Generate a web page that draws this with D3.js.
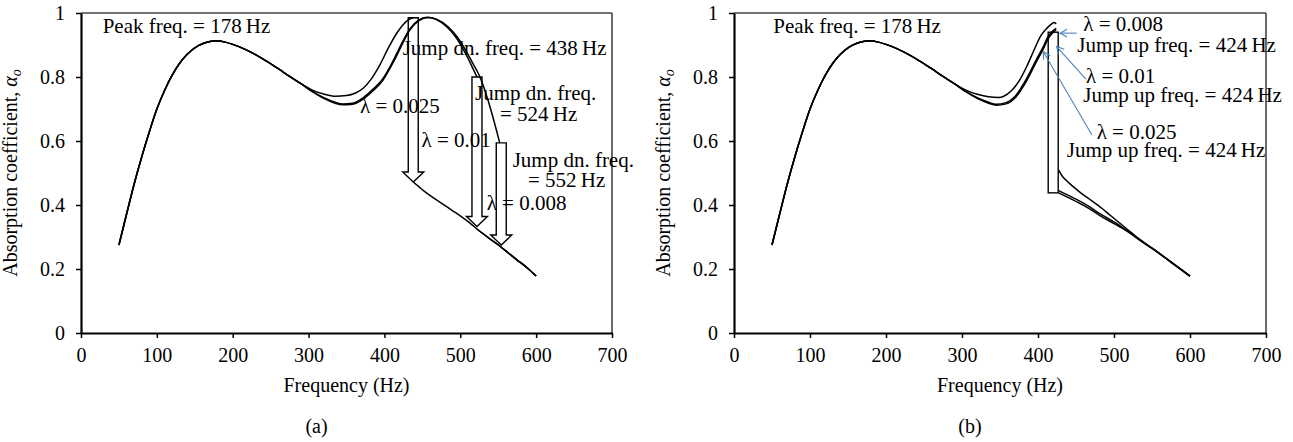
<!DOCTYPE html>
<html><head><meta charset="utf-8">
<script src="https://cdn.jsdelivr.net/npm/d3@7"></script>
<style>
body{margin:0;background:#fff;}
svg{display:block;font-family:"Liberation Serif","Times New Roman",serif;}
</style></head><body>
<svg id="chart" width="1293" height="442"></svg>
<script>
// ---------------- data ----------------
const xTicks = [0, 100, 200, 300, 400, 500, 600, 700];
const yTicks = [0, 0.2, 0.4, 0.6, 0.8, 1];
const yTickLabels = ["0", "0.2", "0.4", "0.6", "0.8", "1"];
const lambdas = ["0.008", "0.01", "0.025"];

// shared part of all curves (both panels)
const commonFreq  = [50, 60, 70, 80, 90, 100, 110, 120, 130, 140, 150, 160, 170, 178, 190, 200, 215, 230, 245, 260, 275, 290];
const commonAlpha = [0.275, 0.371, 0.465, 0.55, 0.628, 0.70, 0.757, 0.805, 0.843, 0.871, 0.891, 0.904, 0.911, 0.913, 0.909, 0.902, 0.888, 0.87, 0.849, 0.826, 0.802, 0.779];

// panel (a): upper branches (increasing frequency sweep)
const aUpFreq008  = [305, 320, 335, 345, 358, 372, 385, 398, 408, 416, 425, 434, 445, 458, 470, 484, 496, 506, 516, 524, 530, 540, 552];
const aUpAlpha008 = [0.754, 0.733, 0.718, 0.713, 0.715, 0.731, 0.757, 0.79, 0.83, 0.866, 0.91, 0.948, 0.975, 0.986, 0.979, 0.957, 0.925, 0.888, 0.845, 0.81, 0.775, 0.70, 0.594];
const aUpFreq01   = [305, 320, 335, 345, 358, 372, 385, 398, 408, 416, 425, 434, 445, 456, 468, 482, 494, 504, 515, 522];
const aUpAlpha01  = [0.755, 0.735, 0.721, 0.716, 0.718, 0.735, 0.762, 0.795, 0.835, 0.872, 0.915, 0.952, 0.978, 0.987, 0.98, 0.957, 0.925, 0.886, 0.835, 0.80];
const aUpFreq025  = [305, 320, 335, 350, 362, 372, 383, 394, 405, 416, 424, 431, 438];
const aUpAlpha025 = [0.759, 0.747, 0.74, 0.742, 0.75, 0.765, 0.795, 0.838, 0.89, 0.936, 0.962, 0.978, 0.985];
// panel (a): lower branch after the jump down
const aLowFreq  = [438, 445, 452, 460, 470, 480, 490, 500, 512, 522, 538, 554, 565, 575, 588, 600];
const aLowAlpha = [0.472, 0.458, 0.444, 0.43, 0.414, 0.398, 0.382, 0.366, 0.345, 0.325, 0.296, 0.268, 0.247, 0.228, 0.204, 0.178];
// panel (a): jump-down arrows (lambda 0.025, 0.01, 0.008)
const aJumpFreq   = [438, 522, 554];
const aJumpTop    = [0.985, 0.80, 0.594];
const aJumpBottom = [0.472, 0.333, 0.275];

// panel (b): upper branches (decreasing frequency sweep)
const bUpFreq008  = [305, 320, 335, 345, 358, 370, 385, 398, 407, 413, 420, 424];
const bUpAlpha008 = [0.754, 0.733, 0.718, 0.712, 0.716, 0.735, 0.788, 0.848, 0.888, 0.918, 0.94, 0.948];
const bUpFreq01   = [305, 320, 335, 345, 358, 370, 385, 398, 407, 413, 420, 424];
const bUpAlpha01  = [0.755, 0.735, 0.721, 0.715, 0.72, 0.74, 0.795, 0.855, 0.895, 0.925, 0.945, 0.952];
const bUpFreq025  = [305, 320, 335, 348, 355, 365, 375, 385, 395, 403, 410, 416, 421, 424];
const bUpAlpha025 = [0.759, 0.746, 0.738, 0.736, 0.74, 0.757, 0.787, 0.832, 0.885, 0.926, 0.948, 0.962, 0.97, 0.966];
// panel (b): lower branches
const bLowFreq008  = [427, 432, 438, 446, 455, 468, 480, 495, 517, 535, 552, 575, 600];
const bLowAlpha008 = [0.51, 0.49, 0.475, 0.458, 0.44, 0.418, 0.397, 0.368, 0.325, 0.29, 0.262, 0.222, 0.178];
const bLowFreq01   = [427, 440, 455, 468, 482, 500, 517, 535, 552, 575, 600];
const bLowAlpha01  = [0.445, 0.43, 0.412, 0.394, 0.372, 0.347, 0.32, 0.29, 0.262, 0.222, 0.178];
const bLowFreq025  = [427, 440, 455, 470, 482, 500, 517, 535, 552, 575, 600];
const bLowAlpha025 = [0.438, 0.423, 0.405, 0.385, 0.366, 0.342, 0.318, 0.288, 0.261, 0.221, 0.177];
// panel (b): jump-up bar
const bJumpFreq = [420];
const bJumpTop = [0.94];
const bJumpBottom = [0.438];
// panel (b): pointer arrows [from label to curve]
const bPtrFromFreq  = [451, 463, 471];
const bPtrFromAlpha = [0.937, 0.793, 0.619];
const bPtrToFreq    = [429, 424.6, 407];
const bPtrToAlpha   = [0.937, 0.895, 0.879];

// annotation texts: [text, freq, alpha] (left edge, baseline)
const aNotes = [
  ["Peak freq. = 178\u2009Hz", 28.6, 0.937],
  ["Jump dn. freq. = 438\u2009Hz", 424, 0.869],
  ["Jump dn. freq.", 519.4, 0.728],
  ["= 524\u2009Hz", 552.4, 0.663],
  ["\u03bb = 0.025", 367.8, 0.6875],
  ["\u03bb = 0.01", 449, 0.582],
  ["Jump dn. freq.", 569, 0.52],
  ["= 552\u2009Hz", 589.3, 0.457],
  ["\u03bb = 0.008", 534.8, 0.384]
];
const bNotes = [
  ["Peak freq. = 178\u2009Hz", 51.7, 0.937],
  ["\u03bb = 0.008", 459.6, 0.945],
  ["Jump up freq. = 424\u2009Hz", 451.7, 0.879],
  ["\u03bb = 0.01", 463.2, 0.78],
  ["Jump up freq. = 424\u2009Hz", 459.6, 0.723],
  ["\u03bb = 0.025", 477.2, 0.607],
  ["Jump up freq. = 424\u2009Hz", 437.8, 0.549]
];

// ---------------- drawing ----------------
const svg = d3.select("#chart");
const plotTop = 13, plotBottom = 333;
const y = d3.scaleLinear().domain([0, 1]).range([plotBottom, plotTop]);

function series(f, a) { return f.map((d, i) => [d, a[i]]); }
function withCommon(f, a) { return series(commonFreq, commonAlpha).concat(series(f, a)); }

function panel(x, opts) {
  const g = svg.append("g");
  const x0 = x.range()[0], x1 = x.range()[1];
  const line = d3.line().x(d => x(d[0])).y(d => y(d[1])).curve(d3.curveMonotoneX);

  // frame top/right
  g.append("line").attr("x1", x0).attr("x2", x1).attr("y1", plotTop).attr("y2", plotTop)
    .attr("stroke", "#444").attr("stroke-width", 1.6);
  g.append("line").attr("x1", x1).attr("x2", x1).attr("y1", plotTop).attr("y2", plotBottom)
    .attr("stroke", "#444").attr("stroke-width", 1.6);

  // axes
  const ax = g.append("g").attr("transform", `translate(0,${plotBottom})`)
    .call(d3.axisBottom(x).tickValues(xTicks).tickSize(5).tickSizeOuter(0).tickPadding(10).tickFormat(d3.format("d")));
  const ay = g.append("g").attr("transform", `translate(${x0},0)`)
    .call(d3.axisLeft(y).tickValues(yTicks).tickSize(5).tickSizeOuter(0).tickPadding(11).tickFormat((d, i) => yTickLabels[i]));
  [ax, ay].forEach(a => {
    a.select(".domain").attr("stroke", "#000").attr("stroke-width", 2.2);
    a.selectAll(".tick line").attr("stroke", "#000").attr("stroke-width", 1.5);
    a.selectAll("text").attr("font-size", 20).attr("fill", "#000")
      .attr("font-family", "'Liberation Serif', serif");
  });

  // jump shapes (behind curves)
  opts.jumps(g, x);

  // curves
  opts.curves.forEach(c => {
    g.append("path").attr("d", line(c)).attr("fill", "none")
      .attr("stroke", "#000").attr("stroke-width", 1.5);
  });

  if (opts.pointers) opts.pointers(g, x);

  // notes
  opts.notes.forEach(n => {
    g.append("text").attr("x", x(n[1])).attr("y", y(n[2]))
      .attr("font-size", 21).attr("fill", "#000").text(n[0]);
  });

  // axis titles
  const cx = (x0 + x1) / 2;
  g.append("text").attr("x", cx).attr("y", 392).attr("text-anchor", "middle")
    .attr("font-size", 20).text("Frequency (Hz)");
  g.append("text").attr("x", cx - 30).attr("y", 433).attr("text-anchor", "middle")
    .attr("font-size", 20).text(opts.label);
  const yt = g.append("text").attr("transform", `translate(${x0 - 64},${(plotTop + plotBottom) / 2}) rotate(-90)`)
    .attr("text-anchor", "middle").attr("font-size", 20);
  yt.append("tspan").text("Absorption coefficient, ");
  yt.append("tspan").attr("font-style", "italic").text("\u03b1");
  yt.append("tspan").attr("font-style", "italic").attr("font-size", 14).attr("dy", 4).text("o");
}

const xa = d3.scaleLinear().domain([0, 700]).range([81, 612]);
const xb = d3.scaleLinear().domain([0, 700]).range([734, 1266]);

panel(xa, {
  label: "(a)",
  curves: [
    withCommon(aUpFreq008, aUpAlpha008),
    withCommon(aUpFreq01, aUpAlpha01),
    withCommon(aUpFreq025, aUpAlpha025),
    series(aLowFreq, aLowAlpha),
    series(aLowFreq, aLowAlpha).filter(d => d[0] >= aJumpFreq[1]),
    series(aLowFreq, aLowAlpha).filter(d => d[0] >= aJumpFreq[2])
  ],
  jumps: (g, x) => {
    aJumpFreq.forEach((f, i) => {
      const cx = x(f), yt = y(aJumpTop[i]), yb = y(aJumpBottom[i]);
      const bw = 5, hw = 10.5, hh = 10;
      const p = d3.path();
      p.moveTo(cx - bw, yt); p.lineTo(cx + bw, yt); p.lineTo(cx + bw, yb - hh);
      p.lineTo(cx + hw, yb - hh); p.lineTo(cx, yb); p.lineTo(cx - hw, yb - hh);
      p.lineTo(cx - bw, yb - hh); p.closePath();
      g.append("path").attr("d", p.toString()).attr("fill", "#fff")
        .attr("stroke", "#000").attr("stroke-width", 1.4);
    });
  },
  notes: aNotes
});

panel(xb, {
  label: "(b)",
  curves: [
    withCommon(bUpFreq008, bUpAlpha008),
    withCommon(bUpFreq01, bUpAlpha01),
    withCommon(bUpFreq025, bUpAlpha025),
    series(bLowFreq008, bLowAlpha008),
    series(bLowFreq01, bLowAlpha01),
    series(bLowFreq025, bLowAlpha025)
  ],
  jumps: (g, x) => {
    bJumpFreq.forEach((f, i) => {
      g.append("rect").attr("x", x(f) - 5).attr("width", 10)
        .attr("y", y(bJumpTop[i])).attr("height", y(bJumpBottom[i]) - y(bJumpTop[i]))
        .attr("fill", "#fff").attr("stroke", "#000").attr("stroke-width", 1.4);
    });
  },
  pointers: (g, x) => {
    bPtrFromFreq.forEach((f, i) => {
      const x1 = x(f), y1 = y(bPtrFromAlpha[i]);
      const x2 = x(bPtrToFreq[i]), y2 = y(bPtrToAlpha[i]);
      const ang = Math.atan2(y2 - y1, x2 - x1);
      const L = 8, w = 0.5;
      g.append("line").attr("x1", x1).attr("y1", y1).attr("x2", x2).attr("y2", y2)
        .attr("stroke", "#4f81bd").attr("stroke-width", 1.1);
      const p = d3.path();
      p.moveTo(x2 - L * Math.cos(ang - w), y2 - L * Math.sin(ang - w));
      p.lineTo(x2, y2);
      p.lineTo(x2 - L * Math.cos(ang + w), y2 - L * Math.sin(ang + w));
      g.append("path").attr("d", p.toString()).attr("fill", "none")
        .attr("stroke", "#4f81bd").attr("stroke-width", 1.1);
    });
  },
  notes: bNotes
});
</script>
</body></html>
